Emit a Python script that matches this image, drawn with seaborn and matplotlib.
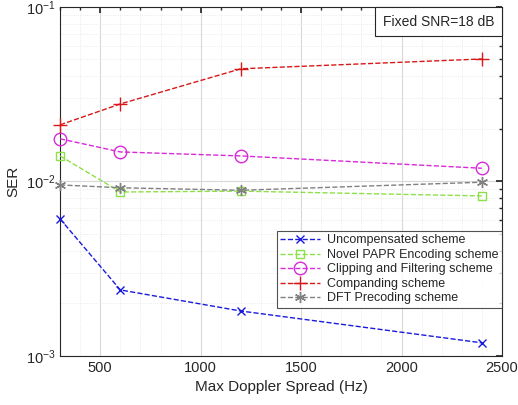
import numpy as np
import pandas as pd
import seaborn as sns
import matplotlib
matplotlib.use("Agg")
import matplotlib.pyplot as plt
from matplotlib.ticker import LogLocator, MultipleLocator, NullFormatter
from matplotlib.offsetbox import AnchoredText

doppler = [300, 600, 1200, 2400]
uncompensated = [6.1e-3, 2.39e-3, 1.81e-3, 1.19e-3]
papr_encoding = [1.40e-2, 8.7e-3, 8.8e-3, 8.26e-3]
clipping = [1.755e-2, 1.476e-2, 1.40e-2, 1.19e-2]
companding = [2.11e-2, 2.78e-2, 4.42e-2, 5.03e-2]
dft_precoding = [9.55e-3, 9.2e-3, 8.9e-3, 9.9e-3]

names = ["Uncompensated scheme", "Novel PAPR Encoding scheme",
         "Clipping and Filtering scheme", "Companding scheme",
         "DFT Precoding scheme"]
series = [uncompensated, papr_encoding, clipping, companding, dft_precoding]
colors = ["#1a1adb", "#8ee04a", "#d82ad8", "#d81818", "#808080"]
# matlab-like markers; last one is an asterisk
markers = ["x", "s", "o", "+", (6, 2, 0)]
msizes = [6, 6, 9, 10, 8]

sns.set_theme(style="white")
plt.rcParams["font.family"] = ["Liberation Sans", "DejaVu Sans"]

fig = plt.figure(figsize=(5.18, 4.05), dpi=100)
ax = fig.add_axes([0.116, 0.121, 0.853, 0.862])

for name, vals, c, m, ms in zip(names, series, colors, markers, msizes):
    df = pd.DataFrame({"x": doppler, "y": vals})
    sns.lineplot(data=df, x="x", y="y", ax=ax, color=c, linestyle="--",
                 marker=m, markersize=ms, markerfacecolor="none",
                 markeredgecolor=c, markeredgewidth=1.0, linewidth=1.0,
                 label=name, clip_on=False, zorder=3)

ax.set_yscale("log")
ax.set_xlim(300, 2500)
ax.set_ylim(1e-3, 1e-1)
ax.xaxis.set_major_locator(MultipleLocator(500))
ax.xaxis.set_minor_locator(MultipleLocator(100))
ax.yaxis.set_major_locator(LogLocator(base=10))
ax.yaxis.set_minor_locator(LogLocator(base=10, subs=np.arange(2, 10)))
ax.yaxis.set_minor_formatter(NullFormatter())

ax.grid(which="major", color="#d8d8d8", linewidth=0.8)
ax.grid(which="minor", color="#e4e4e4", linewidth=0.6, linestyle=":")
ax.tick_params(which="both", direction="in", top=True, right=True,
               labelsize=10.5, colors="#262626")
ax.tick_params(which="major", length=4)
ax.tick_params(which="minor", length=2)
for s in ax.spines.values():
    s.set_color("#262626")
    s.set_linewidth(0.8)

ax.set_xlabel("Max Doppler Spread (Hz)", fontsize=11, color="#262626")
ax.set_ylabel("SER", fontsize=11, color="#262626")

leg = ax.legend(loc="lower right", bbox_to_anchor=(1.0, 0.137), fontsize=9,
                frameon=True, fancybox=False, edgecolor="#262626",
                handlelength=3.2, handletextpad=0.5, borderpad=0.3,
                labelspacing=0.2, borderaxespad=0)
leg.get_frame().set_linewidth(0.8)

at = AnchoredText("Fixed SNR=18 dB", loc="upper right", borderpad=0,
                  pad=0.55, frameon=True,
                  prop=dict(size=10, color="#262626"))
at.patch.set_boxstyle("square,pad=0")
at.patch.set_edgecolor("#262626")
at.patch.set_linewidth(0.8)
ax.add_artist(at)

fig.savefig("out.png", dpi=100)
